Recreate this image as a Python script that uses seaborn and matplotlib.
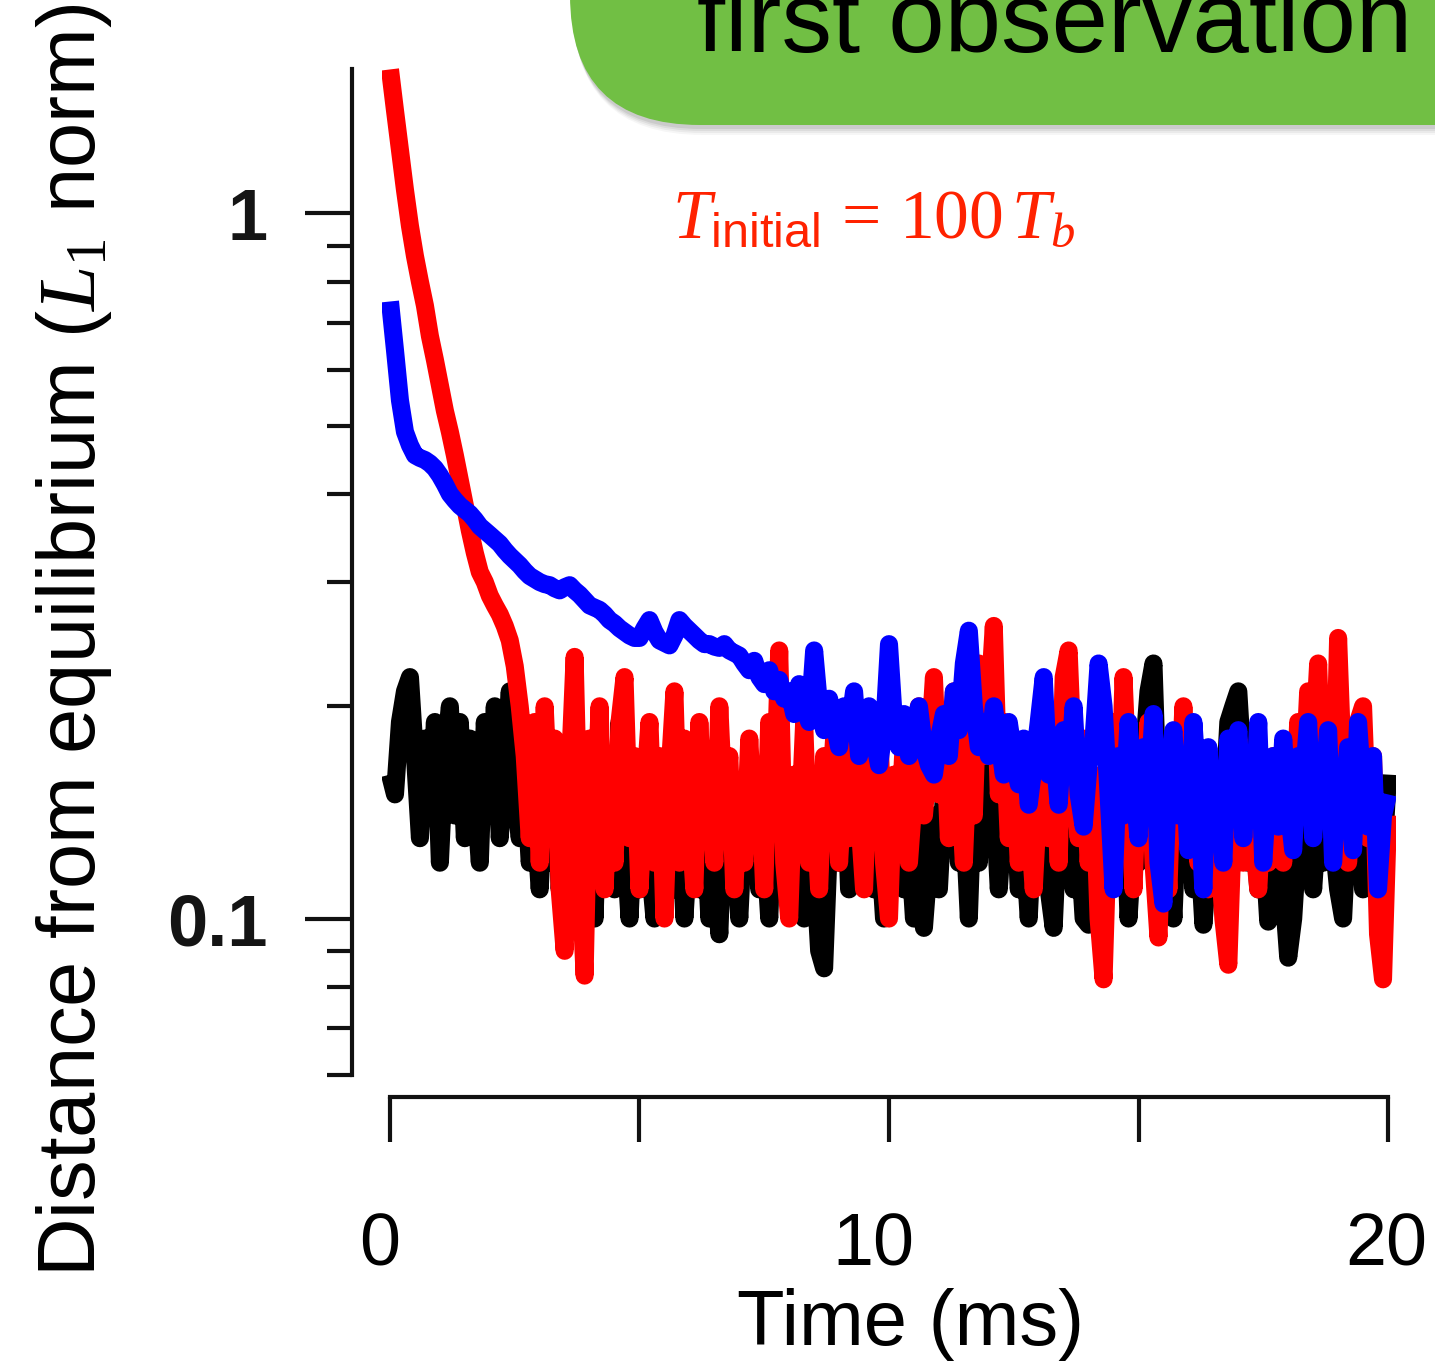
import numpy as np
import pandas as pd
import matplotlib
matplotlib.use("Agg")
import matplotlib.pyplot as plt
import matplotlib.transforms as mtransforms
import seaborn as sns
from matplotlib.patches import FancyBboxPatch
from matplotlib.ticker import FixedLocator, FixedFormatter, NullFormatter, LogLocator

# ---------------- data ----------------
time_step_ms = 0.1
n_points = 201

black_vals = [
    0.16, 0.15, 0.19, 0.21, 0.22, 0.17, 0.13, 0.18, 0.14, 0.19,
    0.12, 0.17, 0.20, 0.14, 0.19, 0.13, 0.18, 0.15, 0.12, 0.19,
    0.14, 0.20, 0.13, 0.17, 0.21, 0.15, 0.13, 0.16, 0.12, 0.14,
    0.11, 0.15, 0.12, 0.17, 0.11, 0.14, 0.10, 0.13, 0.16, 0.11,
    0.14, 0.10, 0.17, 0.12, 0.15, 0.11, 0.19, 0.13, 0.10, 0.14,
    0.11, 0.16, 0.12, 0.10, 0.15, 0.12, 0.17, 0.11, 0.14, 0.10,
    0.13, 0.16, 0.11, 0.14, 0.10, 0.12, 0.095, 0.15, 0.11, 0.13,
    0.10, 0.14, 0.12, 0.16, 0.11, 0.13, 0.10, 0.15, 0.12, 0.14,
    0.11, 0.13, 0.16, 0.10, 0.14, 0.12, 0.09, 0.085, 0.13, 0.15,
    0.12, 0.17, 0.11, 0.14, 0.18, 0.12, 0.15, 0.11, 0.13, 0.10,
    0.14, 0.12, 0.16, 0.11, 0.13, 0.10, 0.15, 0.097, 0.12, 0.14,
    0.11, 0.15, 0.13, 0.17, 0.12, 0.14, 0.10, 0.16, 0.12, 0.18,
    0.13, 0.15, 0.11, 0.14, 0.12, 0.16, 0.11, 0.13, 0.10, 0.14,
    0.12, 0.15, 0.11, 0.097, 0.14, 0.12, 0.16, 0.11, 0.13, 0.10,
    0.098, 0.13, 0.12, 0.15, 0.11, 0.14, 0.12, 0.16, 0.10, 0.13,
    0.12, 0.17, 0.21, 0.23, 0.14, 0.11, 0.13, 0.10, 0.15, 0.12,
    0.14, 0.11, 0.13, 0.098, 0.12, 0.15, 0.11, 0.14, 0.19, 0.20,
    0.21, 0.16, 0.12, 0.14, 0.11, 0.13, 0.099, 0.12, 0.15, 0.11,
    0.088, 0.10, 0.13, 0.12, 0.15, 0.11, 0.14, 0.12, 0.16, 0.13,
    0.11, 0.10, 0.14, 0.12, 0.15, 0.11, 0.13, 0.12, 0.14, 0.12,
    0.16,
]

red_vals = [
    1.60, 1.40, 1.23, 1.08, 0.96, 0.87, 0.80, 0.74, 0.67, 0.62,
    0.57, 0.525, 0.49, 0.454, 0.418, 0.385, 0.355, 0.33, 0.31, 0.30,
    0.287, 0.278, 0.27, 0.26, 0.248, 0.228, 0.20, 0.17, 0.13, 0.19,
    0.12, 0.20, 0.14, 0.18, 0.11, 0.09, 0.16, 0.235, 0.12, 0.083,
    0.18, 0.13, 0.20, 0.11, 0.16, 0.12, 0.19, 0.22, 0.13, 0.17,
    0.11, 0.15, 0.19, 0.12, 0.17, 0.10, 0.16, 0.21, 0.12, 0.18,
    0.14, 0.11, 0.19, 0.13, 0.16, 0.12, 0.20, 0.14, 0.17, 0.11,
    0.15, 0.12, 0.18, 0.13, 0.16, 0.11, 0.19, 0.14, 0.24, 0.12,
    0.10, 0.16, 0.13, 0.19, 0.12, 0.15, 0.11, 0.17, 0.14, 0.18,
    0.12, 0.16, 0.13, 0.20, 0.14, 0.11, 0.17, 0.15, 0.19, 0.12,
    0.10, 0.16, 0.13, 0.18, 0.12, 0.15, 0.20, 0.14, 0.17, 0.22,
    0.15, 0.19, 0.13, 0.21, 0.16, 0.12, 0.18, 0.14, 0.23, 0.17,
    0.20, 0.26, 0.15, 0.19, 0.13, 0.17, 0.12, 0.16, 0.14, 0.11,
    0.15, 0.19, 0.13, 0.17, 0.12, 0.22, 0.24, 0.16, 0.13, 0.18,
    0.12, 0.16, 0.10, 0.082, 0.14, 0.19, 0.13, 0.22, 0.15, 0.11,
    0.17, 0.13, 0.19, 0.12, 0.094, 0.15, 0.11, 0.18, 0.14, 0.20,
    0.13, 0.17, 0.12, 0.16, 0.11, 0.15, 0.13, 0.10, 0.086, 0.14,
    0.18, 0.12, 0.16, 0.13, 0.11, 0.15, 0.12, 0.17, 0.14, 0.12,
    0.16, 0.13, 0.19, 0.15, 0.21, 0.17, 0.23, 0.14, 0.18, 0.13,
    0.25, 0.16, 0.12, 0.15, 0.19, 0.20, 0.13, 0.17, 0.095, 0.082,
    0.14,
]

blue_vals = [
    0.75, 0.64, 0.543, 0.49, 0.469, 0.454, 0.45, 0.447, 0.442, 0.435,
    0.425, 0.413, 0.40, 0.392, 0.385, 0.38, 0.375, 0.368, 0.36, 0.355,
    0.35, 0.345, 0.34, 0.333, 0.327, 0.322, 0.317, 0.311, 0.306, 0.303,
    0.30, 0.298, 0.297, 0.294, 0.292, 0.295, 0.297, 0.292, 0.288, 0.283,
    0.278, 0.276, 0.274, 0.27, 0.265, 0.262, 0.258, 0.255, 0.252, 0.25,
    0.25, 0.258, 0.265, 0.255, 0.248, 0.246, 0.244, 0.252, 0.265, 0.26,
    0.256, 0.252, 0.248, 0.245, 0.245, 0.243, 0.242, 0.245, 0.24, 0.238,
    0.236, 0.23, 0.225, 0.232, 0.22, 0.215, 0.225, 0.21, 0.218, 0.205,
    0.21, 0.195, 0.215, 0.20, 0.19, 0.24, 0.20, 0.185, 0.205, 0.19,
    0.175, 0.20, 0.185, 0.21, 0.17, 0.19, 0.20, 0.18, 0.165, 0.185,
    0.245, 0.19, 0.175, 0.195, 0.17, 0.185, 0.20, 0.175, 0.165, 0.16,
    0.18, 0.195, 0.17, 0.21, 0.185, 0.23, 0.256, 0.20, 0.175, 0.19,
    0.17, 0.20, 0.18, 0.16, 0.19, 0.17, 0.155, 0.18, 0.145, 0.165,
    0.19, 0.22, 0.16, 0.175, 0.145, 0.185, 0.16, 0.20, 0.15, 0.135,
    0.165, 0.18, 0.23, 0.20, 0.15, 0.11, 0.17, 0.14, 0.19, 0.155,
    0.13, 0.175, 0.15, 0.195, 0.12, 0.105, 0.16, 0.185, 0.14, 0.17,
    0.125, 0.19, 0.15, 0.11, 0.175, 0.14, 0.16, 0.12, 0.18, 0.15,
    0.185, 0.13, 0.165, 0.14, 0.19, 0.12, 0.155, 0.17, 0.135, 0.18,
    0.145, 0.125, 0.17, 0.155, 0.19, 0.13, 0.165, 0.15, 0.185, 0.12,
    0.16, 0.14, 0.175, 0.125, 0.19, 0.15, 0.135, 0.17, 0.11, 0.14,
    0.15,
]

x_ticks = [0, 5, 10, 15, 20]
x_tick_labels = ["0", "", "10", "", "20"]
y_major_ticks = [0.1, 1]
y_tick_labels = ["0.1", "1"]

x_label = "Time (ms)"
y_label = r"Distance from equilibrium ($L_1$ norm)"
annotation = r"$T_{\mathsf{initial}}\,=\,100\,T_b$"
box_title = "first observation"

time_ms = np.round(np.arange(n_points) * time_step_ms, 1)
df = pd.DataFrame({"time": time_ms, "black": black_vals, "red": red_vals, "blue": blue_vals})

# ---------------- style ----------------
sns.set_style("ticks")
plt.rcParams["font.family"] = ["Liberation Sans", "DejaVu Sans"]
plt.rcParams["text.color"] = "black"
plt.rcParams["axes.labelcolor"] = "black"
plt.rcParams["mathtext.fontset"] = "custom"
plt.rcParams["mathtext.rm"] = "Liberation Serif"
plt.rcParams["mathtext.it"] = "Liberation Serif:italic"
plt.rcParams["mathtext.sf"] = "Liberation Sans"
plt.rcParams["mathtext.bf"] = "Liberation Serif:bold"

W, H = 1435, 1369
DPI = 100
fig = plt.figure(figsize=(W / DPI, H / DPI), dpi=DPI)
px2pt = 72.0 / DPI

# main axes placed in pixel terms
ax = fig.add_axes([382.5 / W, (H - 1075) / H, 1013 / W, 1033 / H])
ax.set_yscale("log")

line_w = 13.0
for col, colour, z in [("black", "#000000", 2), ("red", "#ff0000", 3), ("blue", "#0000ff", 4)]:
    sns.lineplot(data=df, x="time", y=col, color=colour, linewidth=line_w, ax=ax, zorder=z)
for ln in ax.get_lines():
    ln.set_linewidth(line_w)
    ln.set_solid_joinstyle("round")
    ln.set_solid_capstyle("butt")

ax.set_xlim(-0.15, 20.15)
ax.set_ylim(0.06, 1.75)

sns.despine(ax=ax, offset={"left": 30.5 * px2pt, "bottom": 22 * px2pt})
ax.spines["left"].set_bounds(0.06, 1.6)
ax.spines["bottom"].set_bounds(0, 20)
for s in ("left", "bottom"):
    ax.spines[s].set_linewidth(3.0)
    ax.spines[s].set_color("#111111")

ax.xaxis.set_major_locator(FixedLocator(x_ticks))
ax.xaxis.set_major_formatter(FixedFormatter(x_tick_labels))
ax.yaxis.set_major_locator(FixedLocator(y_major_ticks))
ax.yaxis.set_major_formatter(FixedFormatter(y_tick_labels))
ax.yaxis.set_minor_locator(LogLocator(base=10, subs=np.arange(2, 10)))
ax.yaxis.set_minor_formatter(NullFormatter())

ax.tick_params(axis="x", which="major", direction="out", length=45 * px2pt, width=3.0,
               color="#111111", pad=69 * px2pt, labelsize=53, labelcolor="#000000")
ax.tick_params(axis="y", which="major", direction="out", length=47 * px2pt, width=3.0,
               color="#111111", pad=37 * px2pt, labelsize=52, labelcolor="#141414")
ax.tick_params(axis="y", which="minor", direction="out", length=25 * px2pt, width=3.0,
               color="#111111")
for lab in ax.get_yticklabels():
    lab.set_fontweight("bold")

# small horizontal shifts of the x tick labels, as in the reference
x_label_shift_px = {"0": -10, "10": -16, "20": -2}
for lab in ax.get_xticklabels():
    dx = x_label_shift_px.get(lab.get_text(), 0)
    if dx:
        lab.set_transform(lab.get_transform() +
                          mtransforms.ScaledTranslation(dx / DPI, 0, fig.dpi_scale_trans))

ax.set_xlabel(x_label, fontsize=56, color="black")
ax.set_ylabel(y_label, fontsize=58.5, color="black")
ax.xaxis.set_label_coords(911 / W, 1 - 1288 / H, transform=fig.transFigure)
ax.yaxis.set_label_coords(114 / W, 1 - 640 / H, transform=fig.transFigure)

# ---------------- overlay: green box, title and annotation ----------------
ov = fig.add_axes([0, 0, 1, 1], zorder=5)
ov.set_xlim(0, W)
ov.set_ylim(H, 0)
ov.axis("off")

for k, a in [(10, 0.05), (8, 0.07), (6, 0.09), (4, 0.12)]:
    ov.add_patch(FancyBboxPatch((570 + k * 0.3, -300 + k), 1100, 425,
                                boxstyle="round,pad=0,rounding_size=130",
                                facecolor="#555555", edgecolor="none", alpha=a))
ov.add_patch(FancyBboxPatch((570, -300), 1100, 425,
                            boxstyle="round,pad=0,rounding_size=130",
                            facecolor="#71bf44", edgecolor="none"))
ov.text(697, 52, box_title, fontsize=73, color="#000000", ha="left", va="baseline")

ov.text(672, 237, annotation, fontsize=50, color="#ff2200", ha="left", va="baseline")

fig.savefig("out.png", dpi=DPI)
